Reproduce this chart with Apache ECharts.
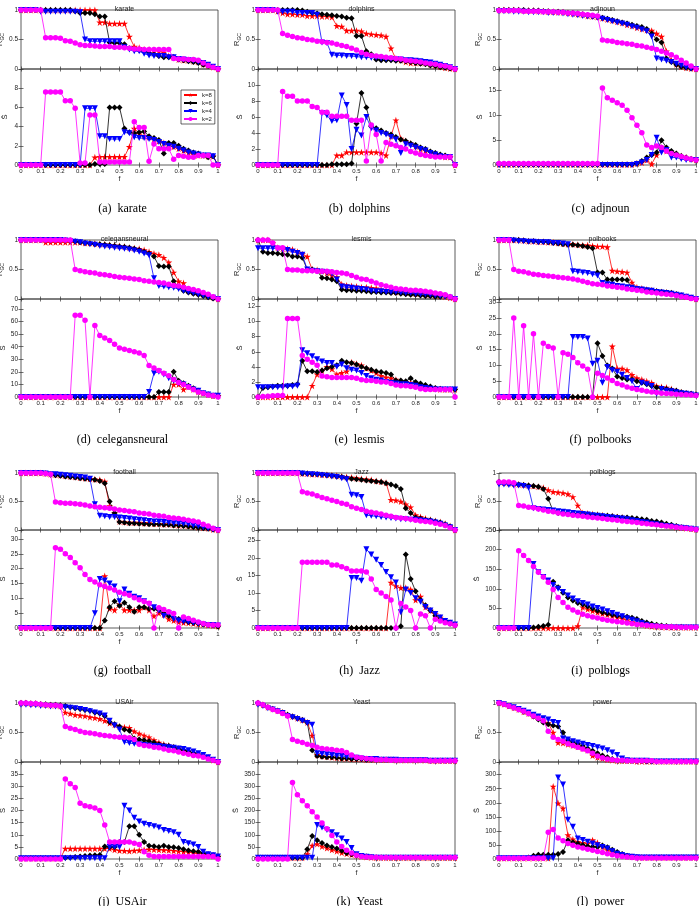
<!DOCTYPE html>
<html><head><meta charset="utf-8">
<script src="https://cdn.jsdelivr.net/npm/echarts@6/dist/echarts.min.js"></script>
<style>html,body{margin:0;padding:0;background:#fff}#c{width:700px;height:906px}</style>
</head><body><div id="c"></div>
<script>
// fraction of removed nodes
const F = [0,.025,.05,.075,.1,.125,.15,.175,.2,.225, .25,.275,.3,.325,.35,.375,.4,.425,.45,.475, .5,.525,.55,.575,.6,.625,.65,.675,.7,.725, .75,.775,.8,.825,.85,.875,.9,.925,.95,.975, 1];

// (a) karate
const karate_R8 = [1,1,1,1,1,1,1,1,1,1, 1,1,1,1,1,1,.79,.79,.77,.77, .77,.77,.55,.38,.36,.33,.33,.32,.3,.28, .22,.2,.16,.15,.15,.13,.12,.08,.06,.03, 0];
const karate_R6 = [1,1,1,1,1,1,1,1,1,1, 1,.98,.95,.95,.95,.93,.89,.89,.45,.44, .44,.42,.35,.33,.32,.3,.27,.25,.22,.2, .2,.2,.16,.15,.13,.12,.1,.07,.05,.03, 0];
const karate_R4 = [1,1,1,1,.97,.97,.97,.97,.97,.97, .97,.97,.96,.5,.47,.47,.47,.47,.47,.47, .47,.37,.33,.3,.3,.26,.23,.22,.22,.22, .2,.2,.17,.16,.15,.14,.12,.1,.07,.04, 0];
const karate_R2 = [1,1,1,1,1,.53,.53,.53,.52,.48, .47,.44,.41,.4,.4,.39,.38,.38,.38,.37, .37,.36,.35,.34,.34,.33,.33,.33,.33,.33, .33,.18,.17,.17,.16,.16,.15,.1,.06,.03, 0];
const karate_S8 = [0,0,0,0,0,0,0,0,0,0, 0,0,0,0,0,.8,.85,.85,.85,.85, .85,.85,1.9,3.8,3.3,3,2.9,2.7,2.5,2.3, 2.1,1.9,1.7,1.5,1.3,1.1,1,1,.9,.9, 0];
const karate_S6 = [0,0,0,0,0,0,0,0,0,0, 0,0,0,0,0,.1,.1,.1,6,6, 6,3.8,3.4,3.3,3.4,3.5,3,2.8,2.6,1.2, 2.3,2.3,2,1.7,1.5,1.3,1.2,1,.8,.9, 0];
const karate_S4 = [0,0,0,0,0,0,0,0,0,0, 0,0,0,5.9,5.9,5.9,3,3,2.7,2.7, 2.7,3.4,3.3,2.9,2.8,2.8,2.7,2.6,2.4,2.2, 2,1.9,1.7,1.5,1.3,1.2,1.1,1,1,.9, 0];
const karate_S2 = [0,0,0,0,0,7.6,7.6,7.6,7.6,6.7, 6.7,5.9,.2,.2,5.2,5.2,.3,.3,.3,.3, .3,.3,.3,4.5,3.9,3.9,.4,2.2,1.7,1.7, 1.7,.6,1,.9,.8,.8,1,1,1,0, 0];

// (b) dolphins
const dolphins_R8 = [1,1,1,1,.98,.95,.93,.93,.92,.92, .9,.9,.9,.89,.89,.88,.73,.72,.65,.65, .65,.64,.6,.59,.58,.57,.55,.35,.17,.15, .12,.1,.1,.1,.1,.08,.06,.04,.02,.01, 0];
const dolphins_R6 = [1,1,1,1,1,1,1,1,1,.99, .97,.95,.94,.93,.92,.91,.9,.89,.87,.86, .56,.56,.3,.25,.16,.15,.15,.15,.14,.14, .13,.12,.1,.09,.08,.06,.05,.03,.02,.01, 0];
const dolphins_R4 = [1,1,1,1,.97,.97,.97,.97,.95,.95, .95,.95,.92,.45,.44,.24,.23,.23,.22,.22, .21,.2,.2,.19,.19,.18,.17,.17,.16,.16, .15,.15,.14,.13,.12,.11,.09,.07,.05,.03, 0];
const dolphins_R2 = [1,1,1,1,1,.6,.57,.55,.53,.52, .5,.49,.47,.46,.45,.44,.42,.4,.38,.35, .32,.28,.25,.23,.22,.21,.2,.19,.18,.17, .15,.14,.13,.12,.1,.09,.08,.06,.05,.03, 0];
const dolphins_S8 = [0,0,0,0,0,0,0,0,0,0, 0,0,0,0,0,0,1.2,1.2,1.6,1.6, 1.6,1.6,1.6,1.6,1.6,1.5,1.2,3.6,5.6,3.3, 3,2.7,2.3,2,1.8,1.6,1.4,1.2,1,1, 0];
const dolphins_S6 = [0,0,0,0,0,0,0,0,0,0, 0,0,0,0,0,.1,.1,.1,.1,.2, 5.2,9,7.2,4.8,4.6,4.3,4,3.8,3.5,3.2, 3,2.7,2.5,2.2,2,1.7,1.5,1.3,1.2,1, 0];
const dolphins_S4 = [0,0,0,0,0,0,0,0,0,0, 0,0,0,6.5,6.2,5.5,5.6,8.7,7.5,2, 4.4,3.7,6,4.6,4.3,4,3.8,3.5,3.2,1.5, 2.6,2.4,2.2,2,1.8,1.5,1.3,1.1,1,1, 0];
const dolphins_S2 = [0,0,0,0,0,9.2,8.6,8.6,8,8, 8,7.3,7.2,6.6,6.6,6.1,6.1,6.1,6.1,5.6, 5.6,5.6,.5,5,3.8,.5,2.8,2.6,2.4,2.2, 2,1.7,1.5,1.3,1.2,1.1,1,1,1,1, 0];

// (c) adjnoun
const adjnoun_R8 = [1,1,1,1,1,.99,.99,.99,.98,.98, .97,.97,.96,.96,.95,.94,.93,.92,.9,.89, .88,.86,.84,.82,.8,.78,.75,.73,.7,.68, .66,.65,.6,.55,.3,.15,.08,.04,.02,.01, 0];
const adjnoun_R6 = [1,1,1,1,1,1,.99,.99,.99,.98, .98,.97,.97,.96,.95,.95,.94,.93,.91,.9, .88,.87,.85,.83,.81,.79,.77,.75,.73,.71, .68,.6,.5,.45,.18,.12,.07,.04,.02,.01, 0];
const adjnoun_R4 = [.98,.98,.98,.97,.97,.97,.96,.96,.96,.96, .95,.95,.95,.94,.93,.92,.91,.9,.89,.88, .87,.85,.83,.81,.79,.77,.75,.72,.7,.67, .64,.55,.18,.16,.14,.12,.09,.06,.03,.01, 0];
const adjnoun_R2 = [.99,.99,.99,.99,.99,.98,.98,.98,.98,.97, .97,.97,.96,.96,.95,.95,.94,.93,.92,.91, .9,.49,.48,.47,.45,.44,.43,.42,.4,.39, .37,.35,.33,.3,.27,.24,.2,.15,.1,.05, 0];
const adjnoun_S8 = [.1,.1,.1,.1,.1,.1,.1,.1,.1,.1, .1,.1,.1,.1,.1,.1,.1,.1,.1,.1, .1,.1,.1,.1,.1,.1,.1,.1,.3,.5, 1,.2,2,3.5,2.8,2.5,2.2,1.8,1.5,1.2, 1];
const adjnoun_S6 = [.1,.1,.1,.1,.1,.1,.1,.1,.1,.1, .1,.1,.1,.1,.1,.1,.1,.1,.1,.1, .1,.1,.1,.1,.1,.1,.1,.1,.3,.8, 1.5,2,2.5,5,3.5,2.8,2.3,1.8,1.5,1.2, 1];
const adjnoun_S4 = [0,0,0,0,0,0,0,0,0,0, 0,0,0,0,0,0,0,0,0,0, 0,0,0,0,0,0,0,0,.2,.5, 1,2,5.5,2.5,3,1.5,1.5,1.2,1,1, 1];
const adjnoun_S2 = [.3,.3,.3,.3,.3,.3,.3,.3,.3,.3, .3,.3,.3,.3,.3,.3,.3,.3,.3,.3, .3,15.5,13.5,13,12.5,12,11,9.5,8,6.5, 4,3.5,3.8,3.5,2.8,2.3,2,1.7,1.4,1.2, 1];

// (d) celegansneural
const celegans_R8 = [1,1,1,1,1,.96,.96,.96,.96,.96, .96,.96,.96,.95,.95,.94,.93,.93,.92,.91, .9,.89,.87,.86,.85,.83,.8,.77,.75,.7, .62,.45,.3,.27,.15,.12,.1,.08,.05,.03, 0];
const celegans_R6 = [1,1,1,1,1,1,1,1,1,1, .99,.98,.96,.95,.94,.93,.93,.92,.91,.9, .89,.88,.87,.85,.83,.8,.77,.72,.56,.55, .55,.3,.2,.14,.11,.09,.07,.05,.03,.01, 0];
const celegans_R4 = [1,1,1,1,1,1,1,1,1,.99, .98,.97,.96,.94,.93,.92,.9,.89,.88,.87, .86,.85,.84,.82,.8,.77,.74,.35,.22,.21, .2,.19,.17,.14,.12,.1,.08,.06,.04,.02, 0];
const celegans_R2 = [1,1,1,1,1,1,1,1,1,1, 1,.5,.48,.46,.45,.44,.42,.41,.4,.38, .37,.36,.35,.34,.33,.31,.3,.29,.28,.27, .25,.23,.22,.2,.18,.16,.14,.11,.08,.04, 0];
const celegans_S8 = [0,0,0,0,0,0,0,0,0,0, 0,0,0,0,0,0,0,0,0,0, 0,0,0,0,0,0,0,0,0,0, 0,10,10,6,8,6,4,3,2,1, 1];
const celegans_S6 = [0,0,0,0,0,0,0,0,0,0, 0,0,0,0,0,0,0,0,0,0, 0,0,0,0,0,0,0,0,4,4, 4,20,13,11,9,7,5,3,2,1, 1];
const celegans_S4 = [0,0,0,0,0,0,0,0,0,0, 0,0,0,0,0,0,0,0,0,0, 0,0,0,0,0,0,4,19,20,18, 15,13,11,10,8,6,5,3,2,1, 1];
const celegans_S2 = [0,0,0,0,0,0,0,0,0,0, 0,65,65,61,0,57,49,47,45,42, 39,38,37,36,35,33,25,23,21,19, 17,14,11.5,10,8,6,4,3,1.5,1, 0];

// (e) lesmis
const lesmis_R8 = [1,1,1,.95,.87,.85,.85,.84,.8,.76, .72,.5,.49,.47,.44,.4,.37,.25,.23,.22, .21,.2,.2,.19,.18,.16,.15,.13,.12,.12, .11,.1,.09,.09,.08,.07,.06,.05,.04,.02, 0];
const lesmis_R6 = [1,.8,.78,.78,.77,.76,.75,.72,.72,.7, .5,.5,.48,.36,.35,.33,.3,.16,.15,.15, .14,.14,.13,.12,.12,.11,.11,.1,.1,.09, .08,.07,.07,.06,.05,.05,.04,.04,.05,.04, 0];
const lesmis_R4 = [.86,.86,.86,.86,.85,.84,.83,.8,.78,.75, .5,.48,.47,.46,.45,.43,.33,.21,.2,.19, .18,.17,.16,.14,.13,.13,.12,.12,.12,.11, .1,.1,.09,.08,.08,.07,.06,.05,.04,.02, 0];
const lesmis_R2 = [1,1,1,.95,.87,.87,.5,.49,.49,.48, .48,.48,.47,.47,.47,.46,.45,.44,.43,.4, .37,.34,.33,.3,.27,.24,.22,.2,.18,.17, .16,.15,.15,.14,.13,.12,.1,.09,.07,.04, 0];
const lesmis_S8 = [0,0,0,0,0,0,0,0,0,0, 0,1.5,3,3.5,4,3.7,3,3.2,3.4,4.6, 4.4,4.2,3.8,3.5,3.2,2.8,2.6,2.5,2.3,2.1, 2,1.9,1.8,1.6,1.3,1.2,1.1,1,1,1, 1];
const lesmis_S6 = [0,1.2,1.3,1.4,1.5,1.5,1.5,1.6,1.7,4.8, 3.4,3.4,3.3,3.5,3.8,4,4.2,4.8,4.6,4.5, 4.3,4,3.8,3.6,3.4,3.3,3.2,3,2.2,2.2, 2.1,2.5,2,1.8,1.6,1.4,1.2,1.1,1,1, 1];
const lesmis_S4 = [1.3,1.3,1.3,1.3,1.3,1.3,1.4,1.4,1.5,6.2, 5.8,5.4,5,4.7,4.5,4.5,4,4.3,3.8,3.6, 3.5,3.2,2.8,2.5,2.3,2.2,2,1.9,1.8,1.7, 1.7,1.6,1.5,1.3,1.2,1.1,1,1,1,1, 1];
const lesmis_S2 = [0,.05,.1,.15,.2,.2,10.4,10.4,10.4,5.5, 5,4.6,4.2,2.8,2.7,2.6,2.6,2.6,2.6,2.6, 2.5,2.3,2.2,2.2,2.1,2,2,1.8,1.6,1.5, 1.5,1.4,1.3,1.1,1,1,1,1,1,1, 0];

// (f) polbooks
const polbooks_R8 = [1,1,1,1,1,.99,.98,.98,.97,.97, .96,.96,.95,.94,.93,.93,.92,.91,.91,.9, .89,.89,.88,.48,.47,.46,.45,.28,.2,.18, .16,.15,.13,.12,.11,.1,.08,.06,.04,.02, 0];
const polbooks_R6 = [1,1,1,1,1,.99,.98,.98,.97,.97, .96,.95,.94,.93,.92,.92,.91,.9,.88,.86, .45,.45,.33,.33,.33,.33,.32,.18,.17,.16, .15,.14,.13,.12,.11,.1,.08,.06,.04,.02, 0];
const polbooks_R4 = [1,1,1,.99,.98,.98,.97,.97,.96,.96, .96,.95,.95,.94,.93,.47,.46,.45,.44,.42, .4,.27,.25,.24,.22,.21,.2,.19,.17,.16, .15,.14,.12,.11,.1,.09,.07,.06,.04,.02, 0];
const polbooks_R2 = [1,1,1,.5,.47,.46,.44,.42,.41,.4, .39,.38,.37,.36,.35,.34,.32,.3,.28,.26, .25,.24,.22,.21,.2,.19,.17,.16,.15,.14, .12,.11,.1,.09,.08,.07,.06,.04,.03,.01, 0];
const polbooks_S8 = [0,0,0,0,0,0,0,0,0,0, 0,0,0,0,0,0,0,0,0,0, 0,0,0,16,9,9,8.5,7,6,5.5, 5,4.5,3.5,3.2,3,2.5,2,1.5,1.2,1, .8];
const polbooks_S6 = [0,0,0,0,0,0,0,0,0,0, 0,0,0,0,0,0,0,0,0,0, 17,13,10,9,6.5,6,5.5,5.5,5,4.5, 4,3.5,3,2.8,2.5,2.2,2,1.5,1.2,1, .8];
const polbooks_S4 = [0,0,0,0,0,0,0,0,0,0, 0,0,0,0,0,19,19,19,18.5,10.5, 11.5,4.5,9.5,8.5,8,7,6,5,2.5,4.5, 4,3.5,1,2.5,2,1.8,1.5,1.2,1,.8, .5];
const polbooks_S2 = [0,0,0,25,0,22.5,0,20,0,17, 16,15.5,0,14,13.5,12.5,10.8,9.8,8.8,0, 7.5,6.8,6,5.2,4.3,3.8,3.2,2.8,2.4,2.1, 1.8,1.6,1.4,1.2,1.1,1,.9,.8,.7,.6, .5];

// (g) football
const football_R8 = [1,1,1,1,1,.99,.98,.97,.96,.95, .94,.93,.92,.91,.9,.89,.88,.85,.42,.3, .15,.14,.13,.13,.13,.12,.12,.11,.11,.1, .1,.09,.08,.08,.07,.06,.05,.04,.03,.01, 0];
const football_R6 = [1,1,1,1,1,.99,.97,.96,.95,.94, .93,.92,.91,.9,.89,.88,.86,.82,.5,.3, .14,.13,.12,.12,.11,.11,.1,.1,.1,.09, .09,.08,.08,.07,.06,.05,.04,.03,.02,.01, 0];
const football_R4 = [1,1,1,1,1,.99,.98,.98,.97,.96, .95,.94,.93,.92,.9,.45,.25,.24,.23,.23, .22,.21,.2,.19,.18,.17,.16,.15,.15,.14, .13,.12,.12,.11,.1,.08,.07,.05,.03,.01, 0];
const football_R2 = [1,1,1,1,1,.99,.98,.49,.48,.47, .47,.46,.45,.44,.42,.41,.4,.39,.38,.37, .35,.34,.33,.32,.3,.29,.28,.26,.25,.24, .22,.21,.2,.19,.17,.16,.14,.1,.07,.03, 0];
const football_S8 = [0,0,0,0,0,0,0,0,0,0, 0,0,0,0,0,0,0,17.5,6.5,6, 8,6,6,6,6,7,6,4,5,4.5, 3,2.5,2,1.8,1.7,1.5,1.3,1.2,1,.8, .6];
const football_S6 = [0,0,0,0,0,0,0,0,0,0, 0,0,0,0,0,0,0,2.5,7,9, 7.5,8.5,7,5.5,7,7,6.5,6.5,6,5, 4,3.5,3,2.5,2,1.8,1.5,1.2,1,.8, .5];
const football_S4 = [0,0,0,0,0,0,0,0,0,0, 0,0,0,0,0,5,16.5,16,15,14, 9,13,11.5,10.5,10,9,8,7,6,4, 5,3,2.5,2.2,2,1.8,1.5,1.2,1,1, .8];
const football_S2 = [0,0,0,0,0,0,0,27,26.5,25, 23.7,22,20.3,18,16.3,15.5,14.6,14,13.5,12.8, 12,11.5,11,10.2,9.5,8.9,8.3,0,6.8,6.2, 5.5,4.9,0,3.7,3.2,2.6,2,1.5,1.1,1, 1];

// (h) Jazz
const jazz_R8 = [1,1,1,1,1,1,1,1,1,.99, .99,.98,.98,.97,.97,.96,.95,.94,.93,.92, .91,.9,.89,.88,.86,.85,.83,.53,.52,.5, .45,.4,.26,.23,.2,.18,.16,.14,.11,.07, 0];
const jazz_R6 = [1,1,1,1,1,1,1,1,1,.99, .99,.98,.98,.97,.96,.95,.94,.93,.91,.9, .89,.88,.87,.86,.85,.84,.82,.8,.77,.72, .38,.3,.22,.2,.18,.17,.15,.13,.1,.06, 0];
const jazz_R4 = [1,1,1,1,1,1,1,1,1,.99, .98,.98,.97,.96,.95,.94,.93,.91,.89,.62, .61,.58,.26,.25,.24,.23,.22,.21,.2,.19, .19,.18,.18,.17,.16,.15,.13,.11,.08,.05, 0];
const jazz_R2 = [1,1,1,1,1,1,1,1,1,.67, .65,.63,.6,.57,.55,.52,.5,.47,.45,.41, .38,.36,.33,.31,.3,.28,.26,.24,.22,.21, .2,.19,.17,.16,.15,.14,.12,.1,.08,.04, 0];
const jazz_S8 = [0,0,0,0,0,0,0,0,0,0, 0,0,0,0,0,0,0,0,0,0, 0,0,0,0,0,0,0,13,12,11.5, 11.5,11,8,9,6,5,4,3,2,1.5, 1];
const jazz_S6 = [0,0,0,0,0,0,0,0,0,0, 0,0,0,0,0,0,0,0,0,0, 0,0,0,0,0,0,0,0,0,.5, 21,14,10.5,8,6.5,5,3.5,2.5,2,1.2, .8];
const jazz_S4 = [0,0,0,0,0,0,0,0,0,0, 0,0,0,0,0,0,0,0,0,14.3, 14.3,13.5,22.5,21,19.5,18,16,14.5,13,4.5, 11,10,8.5,7.5,6,5,4,3,2,1.5, 1];
const jazz_S2 = [0,0,0,0,0,0,0,0,0,18.8, 18.8,18.8,18.8,18.8,18.8,18,18,17.5,17,16.3, 16.3,16.3,16,14,11,10,9,8,0,7, 6,5,0,4,3.5,0,2.5,2,1.5,1.2, .8];

// (i) polblogs
const polblogs_R8 = [.84,.83,.82,.81,.8,.79,.78,.77,.76,.74, .7,.67,.66,.65,.63,.58,.43,.3,.29,.28, .27,.26,.25,.24,.23,.22,.2,.19,.17,.15, .14,.12,.11,.09,.08,.07,.05,.04,.03,.02, .01];
const polblogs_R6 = [.84,.83,.82,.81,.8,.79,.78,.77,.76,.72, .55,.33,.3,.3,.29,.29,.28,.27,.27,.26, .26,.25,.25,.24,.23,.22,.22,.21,.2,.19, .18,.16,.15,.13,.11,.09,.07,.05,.04,.02, .01];
const polblogs_R4 = [.8,.8,.79,.78,.78,.77,.74,.38,.37,.36, .35,.34,.33,.32,.31,.3,.29,.28,.27,.26, .25,.24,.23,.22,.21,.2,.19,.17,.16,.14, .13,.11,.1,.08,.07,.06,.05,.04,.03,.02, .01];
const polblogs_R2 = [.84,.84,.84,.83,.43,.42,.4,.39,.37,.35, .33,.32,.3,.28,.27,.26,.25,.24,.23,.22, .21,.2,.19,.18,.17,.16,.15,.14,.13,.12, .11,.1,.09,.08,.07,.06,.05,.04,.03,.02, .01];
const polblogs_S8 = [0,0,0,0,0,0,0,0,0,0, 0,0,0,0,0,0,5,53,48,44, 40,37,34,31,27,24,20,16,12,9, 6,4,3,2,2,1,1,1,1,1, 1];
const polblogs_S6 = [0,0,0,0,0,0,0,1,3,5, 8,118,104,90,78,70,64,60,55,50, 44,40,37,34,31,30,29,26,23,18, 14,11,8.5,6.5,5,4,3,3,2,2, 2];
const polblogs_S4 = [0,0,0,0,0,0,0,163,142,130, 121,110,100,92,83,75,68,64,60,55, 51,47,43,38,34,30,25,21,17,13, 8,5,3,2,1,1,1,1,1,1, 1];
const polblogs_S2 = [0,0,0,0,197,185,172,157,142,130, 117,98,78,65,53,46,40,35,31,28, 25.5,22.5,20,18,16,14.5,13,11,9,8, 7,6,5,4,3.5,3,2.5,2,2,2, 2];

// (j) USAir
const usair_R8 = [1,1,.99,.99,.98,.97,.96,.96,.95,.84, .82,.8,.79,.78,.76,.75,.73,.7,.66,.63, .6,.59,.58,.52,.48,.45,.42,.37,.33,.3, .28,.25,.23,.2,.18,.15,.13,.1,.07,.03, 0];
const usair_R6 = [1,1,.99,.99,.98,.98,.97,.97,.96,.95, .93,.91,.9,.88,.87,.84,.82,.78,.68,.64, .6,.55,.53,.4,.38,.37,.35,.33,.3,.28, .27,.25,.22,.2,.18,.15,.12,.1,.07,.03, 0];
const usair_R4 = [.97,.97,.96,.96,.95,.95,.94,.94,.93,.93, .92,.91,.9,.88,.86,.84,.82,.79,.7,.62, .55,.34,.32,.31,.3,.29,.28,.27,.27,.26, .25,.24,.23,.22,.2,.18,.15,.12,.08,.04, 0];
const usair_R2 = [1,1,.99,.99,.98,.97,.96,.96,.95,.6, .57,.55,.52,.5,.49,.48,.46,.45,.44,.43, .42,.42,.41,.38,.3,.28,.27,.25,.24,.22, .2,.19,.17,.15,.13,.11,.1,.08,.05,.03, 0];
const usair_S8 = [.3,.3,.3,.3,.3,.3,.3,.3,.3,4.3, 4.3,4.3,4.3,4.3,4.3,4.3,4.3,4.3,4.3,3.8, 3.5,3.4,3.3,3.5,3.6,3.8,4,3.9,3.8,3.7, 3.6,3.4,3.2,3,2.8,2.5,2.2,2,1.5,1.2, 1];
const usair_S6 = [.3,.3,.3,.3,.3,.3,.3,.3,.4,.5, .6,.8,1,1.2,1.4,1.5,1.6,5.2,5,5, 7,7,13.5,13.5,10,7,5.5,5.3,5,5.5, 5,4.8,4.5,4,3.5,3.2,3,2.5,2,1.5, 1];
const usair_S4 = [.3,.3,.3,.3,.3,.3,.3,.3,.3,.3, .3,.3,.3,.3,.3,.3,.3,.3,5,5, 5,22,20,17,15.5,14.5,14,13.5,13,12, 11.5,11,10,7,6.5,6,5,3,2,1.5, 1];
const usair_S2 = [0,0,0,0,0,0,0,0,0,33, 31,29.5,23,22,21.5,21,20,14,7,7, 7,7,7,6.5,6,3,1.5,1,1,1, 1,1,1,1,1,1,1,1,1,1, 0];

// (k) Yeast
const yeast_R8 = [1,.97,.93,.9,.87,.84,.8,.77,.74,.71, .67,.45,.12,.1,.09,.08,.07,.06,.06,.05, .05,.05,.04,.04,.04,.04,.04,.04,.03,.03, .03,.03,.03,.03,.03,.02,.02,.02,.02,.02, .02];
const yeast_R6 = [1,.97,.93,.9,.87,.84,.8,.77,.74,.71, .67,.2,.1,.09,.08,.08,.07,.06,.06,.05, .05,.05,.04,.04,.04,.04,.04,.04,.03,.03, .03,.03,.03,.03,.03,.02,.02,.02,.02,.02, .02];
const yeast_R4 = [.97,.95,.91,.89,.86,.83,.78,.76,.73,.7, .66,.63,.15,.14,.13,.12,.11,.1,.09,.08, .07,.06,.05,.05,.05,.04,.04,.04,.04,.03, .03,.03,.03,.03,.03,.02,.02,.02,.02,.02, .02];
const yeast_R2 = [1,.97,.93,.89,.86,.82,.78,.38,.35,.33, .3,.28,.25,.23,.22,.21,.2,.19,.16,.12, .08,.07,.06,.05,.04,.04,.04,.03,.03,.03, .03,.03,.03,.03,.03,.02,.02,.02,.02,.02, .02];
const yeast_S8 = [5,5,5,5,5,5,5,5,5,5, 20,55,62,52,45,38,32,26,22,18, 14,10,8,6,5,5,5,5,5,5, 5,5,5,5,5,5,5,5,5,5, 5];
const yeast_S6 = [5,5,5,5,5,5,5,5,5,5, 40,95,77,66,56,50,43,34,25,20, 15,12,10,8,6,6,6,5,5,5, 5,5,5,5,5,5,5,5,5,5, 5];
const yeast_S4 = [5,5,5,5,5,5,5,5,5,5, 5,5,140,130,120,110,98,85,70,45, 20,12,9,7,5,5,5,5,5,5, 5,5,5,5,5,5,5,5,5,5, 5];
const yeast_S2 = [0,0,0,0,0,0,0,315,265,240, 220,195,173,148,125,97,70,52,36,25, 15,10,8,7,7,6,6,6,6,6, 6,6,6,6,6,6,6,6,6,6, 6];

// (l) power
const power_R8 = [1,.98,.95,.92,.89,.85,.82,.78,.75,.7, .66,.5,.33,.32,.3,.28,.26,.23,.2,.11, .08,.06,.04,.03,.02,.02,.02,.02,.01,.01, .01,.01,.01,.01,.01,.01,.01,.01,.01,.01, .01];
const power_R6 = [1,.98,.95,.92,.89,.85,.82,.77,.72,.67, .64,.62,.6,.5,.37,.34,.31,.27,.23,.19, .15,.11,.08,.05,.03,.02,.02,.02,.02,.02, .01,.01,.01,.01,.01,.01,.01,.01,.01,.01, .01];
const power_R4 = [1,.98,.95,.93,.9,.87,.84,.8,.77,.74, .72,.68,.66,.4,.38,.35,.33,.31,.29,.27, .25,.23,.2,.16,.12,.06,.03,.02,.02,.02, .02,.01,.01,.01,.01,.01,.01,.01,.01,.01, .01];
const power_R2 = [1,.98,.95,.92,.89,.86,.82,.78,.74,.7, .52,.42,.38,.35,.31,.28,.25,.22,.19,.15, .1,.07,.05,.04,.03,.03,.02,.02,.02,.02, .02,.02,.01,.01,.01,.01,.01,.01,.01,.01, .01];
const power_S8 = [3,3,3,3,3,3,3,3,3,3, 3,258,198,180,85,70,61,58,55,67, 58,43,32,25,20,15,10,8,6,5, 5,5,5,5,5,5,5,5,5,5, 5];
const power_S6 = [3,3,3,3,3,3,5,12,15,15, 15,15,18,25,67,60,55,50,45,44, 43,48,42,33,25,18,12,8,6,5, 5,5,5,5,5,5,5,5,5,5, 5];
const power_S4 = [3,3,3,3,3,3,3,3,3,3, 3,3,290,265,140,115,73,68,61,55, 49,43,37,28,19,14,10,8,6,5, 5,5,5,5,5,5,5,5,5,5, 5];
const power_S2 = [3,3,3,3,3,3,3,3,3,3, 95,105,75,65,55,49,43,39,35,31, 27,23,19,15,12,9,7,5,4,4, 4,4,4,4,4,4,4,4,4,4, 4];

// panel lists
const NAMES = ['karate','dolphins','adjnoun','celegansneural','lesmis','polbooks','football','Jazz','polblogs','USAir','Yeast','power'];
const CAPTIONS = ['(a)  karate','(b)  dolphins','(c)  adjnoun','(d)  celegansneural','(e)  lesmis','(f)  polbooks','(g)  football','(h)  Jazz','(i)  polblogs','(j)  USAir','(k)  Yeast','(l)  power'];
const S_MAX = [10,12,19.3,78,13,31,33,28,250,40,400,345];
const S_INT = [2,2,5,10,2,5,5,5,50,5,50,50];
const KS = ['k=8','k=6','k=4','k=2'];
const R_DATA = [
  [karate_R8,karate_R6,karate_R4,karate_R2],[dolphins_R8,dolphins_R6,dolphins_R4,dolphins_R2],[adjnoun_R8,adjnoun_R6,adjnoun_R4,adjnoun_R2],
  [celegans_R8,celegans_R6,celegans_R4,celegans_R2],[lesmis_R8,lesmis_R6,lesmis_R4,lesmis_R2],[polbooks_R8,polbooks_R6,polbooks_R4,polbooks_R2],
  [football_R8,football_R6,football_R4,football_R2],[jazz_R8,jazz_R6,jazz_R4,jazz_R2],[polblogs_R8,polblogs_R6,polblogs_R4,polblogs_R2],
  [usair_R8,usair_R6,usair_R4,usair_R2],[yeast_R8,yeast_R6,yeast_R4,yeast_R2],[power_R8,power_R6,power_R4,power_R2]];
const S_DATA = [
  [karate_S8,karate_S6,karate_S4,karate_S2],[dolphins_S8,dolphins_S6,dolphins_S4,dolphins_S2],[adjnoun_S8,adjnoun_S6,adjnoun_S4,adjnoun_S2],
  [celegans_S8,celegans_S6,celegans_S4,celegans_S2],[lesmis_S8,lesmis_S6,lesmis_S4,lesmis_S2],[polbooks_S8,polbooks_S6,polbooks_S4,polbooks_S2],
  [football_S8,football_S6,football_S4,football_S2],[jazz_S8,jazz_S6,jazz_S4,jazz_S2],[polblogs_S8,polblogs_S6,polblogs_S4,polblogs_S2],
  [usair_S8,usair_S6,usair_S4,usair_S2],[yeast_S8,yeast_S6,yeast_S4,yeast_S2],[power_S8,power_S6,power_S4,power_S2]];

// sanity check
R_DATA.forEach((p,i)=>p.forEach((a,k)=>{ if(a.length!==F.length) throw new Error('R '+NAMES[i]+' '+KS[k]+' len '+a.length); }));
S_DATA.forEach((p,i)=>p.forEach((a,k)=>{ if(a.length!==F.length) throw new Error('S '+NAMES[i]+' '+KS[k]+' len '+a.length); }));

// layout (pixels)
const COL_L = [21,258,499], W = 197;
const ROW_T = [10,240,473,703], ROW_M = [69,299,530,762], ROW_B = [165,397,628,859];
const CAP_Y = [198,429,660,891];
const NAME_GAP = [11,12,14];

const STAR = 'path://M50,0 L61,35 L98,35 L68,57 L79,91 L50,70 L21,91 L32,57 L2,35 L39,35 Z';
const STY = [
  {color:'#ff0000', symbol:STAR, size:7, rot:0},
  {color:'#000000', symbol:'diamond', size:6, rot:0},
  {color:'#0000ff', symbol:'triangle', size:6, rot:180},
  {color:'#ff00ff', symbol:'circle', size:5.5, rot:0}
];
const FONT = 'Liberation Sans, Arial, sans-serif';
const AX = '#333';

const grids=[], xAxes=[], yAxes=[], series=[], titles=[];
function addGrid(left, top, height, isBottom, yMax, yInt, showMax, nameGap) {
  const g = grids.length;
  grids.push({left, top, width:W, height, show:true, borderColor:AX, borderWidth:0.8, backgroundColor:'transparent', containLabel:false, outerBoundsMode:'none'});
  const tick = {show:true, inside:true, length:2.5, lineStyle:{color:AX, width:0.7}};
  xAxes.push({gridIndex:g, type:'value', min:0, max:1, interval:0.1, position:'bottom',
    axisLine:{show:false}, axisTick:tick, splitLine:{show:false},
    axisLabel:{show:isBottom, fontSize:6, margin:3, color:'#222', fontFamily:FONT, showMinLabel:true, showMaxLabel:true,
      formatter:v=>String(Math.round(v*10)/10)},
    name:isBottom?'f':'', nameLocation:'middle', nameGap:11, nameTextStyle:{fontSize:7, color:'#222', fontFamily:FONT}});
  xAxes.push({gridIndex:g, type:'value', min:0, max:1, interval:0.1, position:'top',
    axisLine:{show:false}, axisTick:tick, splitLine:{show:false}, axisLabel:{show:false}});
  const yName = isBottom ? 'S\u0304' : '{r|R}{s|GC}';
  yAxes.push({gridIndex:g, type:'value', min:0, max:yMax, interval:yInt, position:'left',
    axisLine:{show:false}, axisTick:tick, splitLine:{show:false},
    axisLabel:{fontSize:6.5, margin:3, color:'#222', fontFamily:FONT, showMinLabel:true, showMaxLabel:showMax,
      formatter:v=>String(Math.round(v*100)/100)},
    name:yName, nameLocation:'middle', nameRotate:90, nameGap:nameGap,
    nameTextStyle:{fontSize:7.5, color:'#222', fontFamily:FONT,
      rich:{r:{fontSize:7.5, color:'#222', fontFamily:FONT}, s:{fontSize:5, color:'#222', fontFamily:FONT, padding:[5,0,0,0]}}}});
  yAxes.push({gridIndex:g, type:'value', min:0, max:yMax, interval:yInt, position:'right',
    axisLine:{show:false}, axisTick:tick, splitLine:{show:false}, axisLabel:{show:false}});
  return g;
}

for (let p=0; p<12; p++) {
  const col = p%3, row = Math.floor(p/3);
  const L = COL_L[col];
  const gTop = addGrid(L, ROW_T[row], ROW_M[row]-ROW_T[row], false, 1, 0.5, true, NAME_GAP[col]);
  const gBot = addGrid(L, ROW_M[row], ROW_B[row]-ROW_M[row], true, S_MAX[p], S_INT[p], S_MAX[p]===250, NAME_GAP[col]+1);
  [[gTop, R_DATA[p]], [gBot, S_DATA[p]]].forEach(([g, arrs]) => {
    arrs.forEach((arr, k) => {
      const st = STY[k];
      series.push({
        name: KS[k], type:'line', xAxisIndex:2*g, yAxisIndex:2*g,
        data: F.map((f,i)=>[f, arr[i]]),
        symbol: st.symbol, symbolSize: st.size, symbolRotate: st.rot, showSymbol:true, showAllSymbol:true,
        itemStyle:{color:st.color}, lineStyle:{color:st.color, width:0.8},
        emphasis:{disabled:true}, silent:true, animation:false, z:2+k
      });
    });
  });
  titles.push({text:NAMES[p], left:L+W/2, top:ROW_T[row]-9, textAlign:'center',
    textStyle:{fontSize:7, fontWeight:'normal', color:'#222', fontFamily:FONT}});
  titles.push({text:CAPTIONS[p], left:L+W/2-2, top:CAP_Y[row], textAlign:'center',
    textStyle:{fontSize:12, fontWeight:'normal', color:'#000', fontFamily:'Liberation Serif, Times New Roman, serif'}});
}

const chart = echarts.init(document.getElementById('c'), null, {renderer:'canvas'});
chart.setOption({
  animation:false,
  backgroundColor:'#fff',
  title:titles,
  grid:grids, xAxis:xAxes, yAxis:yAxes, series:series,
  legend:{data:KS, left:181, top:90, orient:'vertical', itemWidth:13, itemHeight:5, itemGap:2,
    padding:[2,3,2,2], borderColor:'#000', borderWidth:0.6, backgroundColor:'#fff', selectedMode:false,
    textStyle:{fontSize:6, color:'#222', fontFamily:FONT}, z:10}
});
</script>
</body></html>
